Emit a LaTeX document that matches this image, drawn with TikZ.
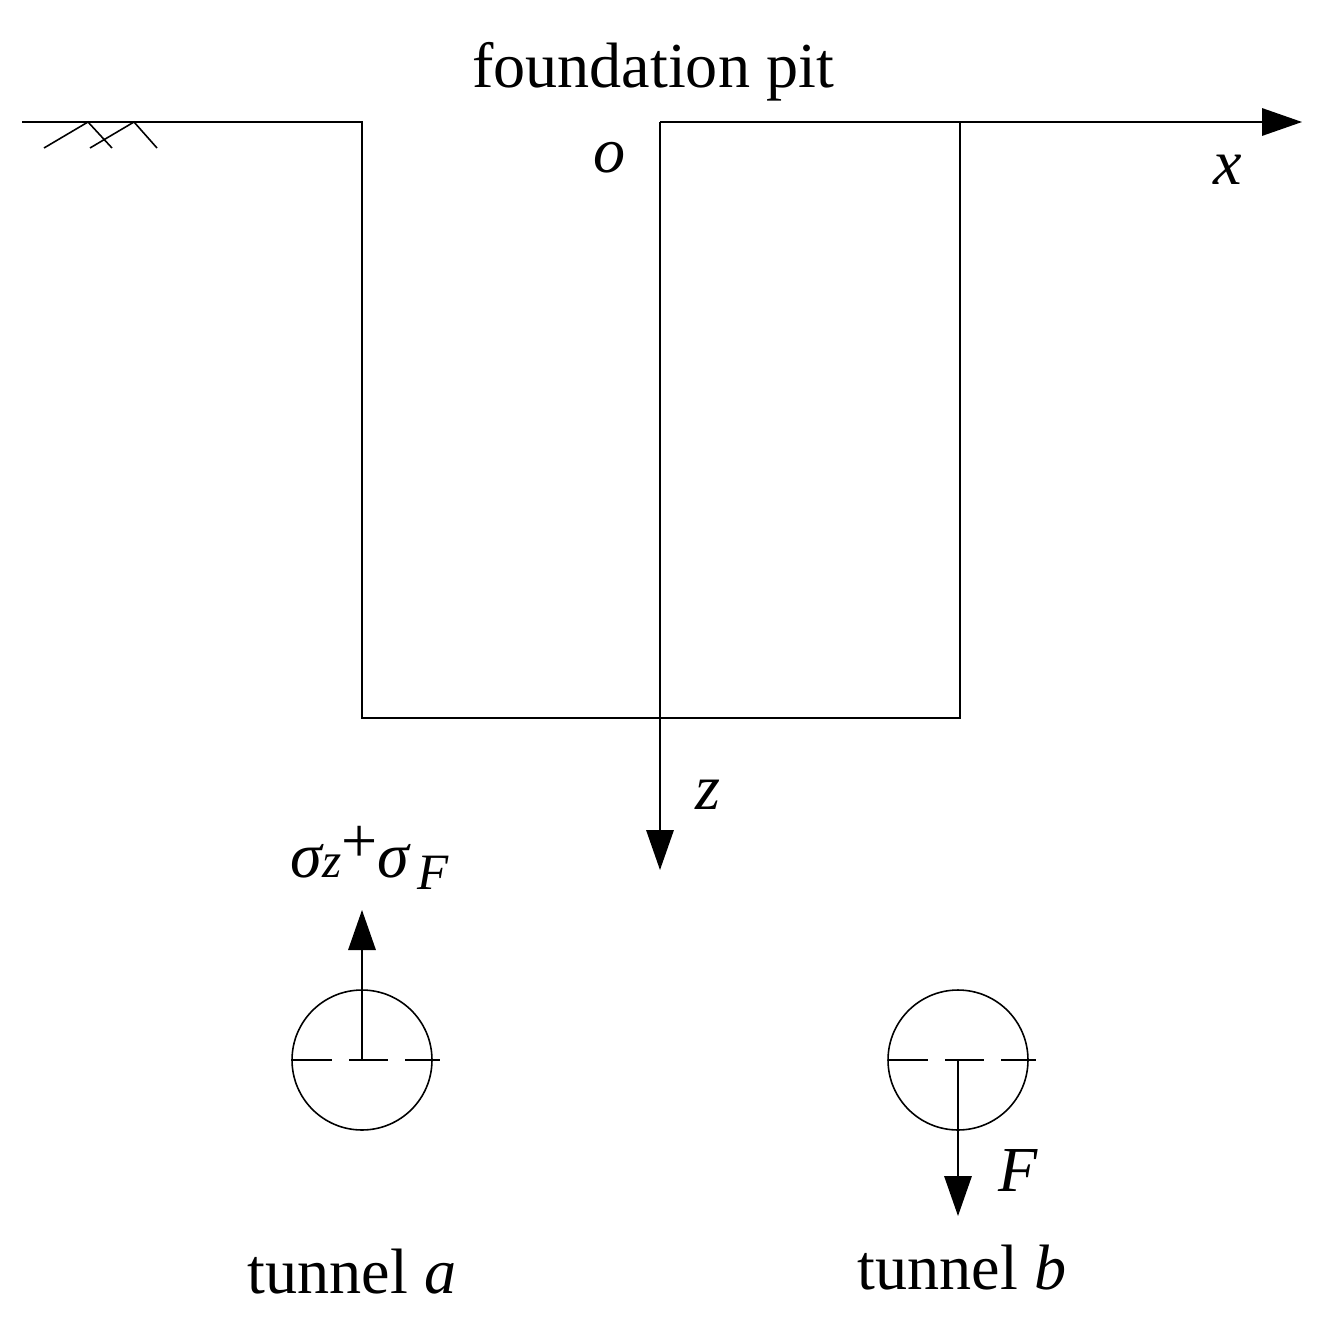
\documentclass[tikz,border=0pt]{standalone}
\usepackage{fontspec}
\setmainfont{Liberation Serif}
\usetikzlibrary{arrows.meta}
\begin{document}
\begin{tikzpicture}[x=0.02cm,y=-0.02cm,line width=0.9pt,
  tip/.style={-{Triangle[length=0.8cm,width=0.55cm]}},
  lbl/.style={font=\fontsize{36.5}{42}\selectfont,inner sep=0},
  circ/.style={draw,circle,minimum size=2.8cm,inner sep=0}]
\useasboundingbox (0,0) rectangle (1329,1331);
\coordinate (g0) at (22,122); \coordinate (tl) at (362,122);
\coordinate (bl) at (362,718); \coordinate (br) at (960,718);
\coordinate (tr) at (960,122); \coordinate (o) at (660,122);
\coordinate (xe) at (1302,122); \coordinate (ze) at (660,870);
\draw (g0) -- (tl) -- (bl) -- (br) -- (tr);
\draw[tip] (o) -- (xe);
\draw[tip] (o) -- (ze);
\draw (44,148) -- (88,122) -- (112,148) (90,148) -- (134,122) -- (157,148);
\node[lbl] at (653,72) {foundation pit};
\node[lbl] at (610,158) {\itshape o};
\node[lbl] at (1228,170) {\itshape x};
\node[lbl] at (708,795) {\itshape z};
\node[circ] (ca) at (362,1060) {};
\node[circ] (cb) at (958,1060) {};
\draw[dash pattern=on 22pt off 10pt,dash phase=-4pt] (286,1060) -- (440,1060);
\draw[dash pattern=on 22pt off 10pt,dash phase=-4pt] (882,1060) -- (1036,1060);
\coordinate (ua) at (362,910); \coordinate (db) at (958,1216);
\draw[tip] (ca.center) -- (ua);
\draw[tip] (cb.center) -- (db);
\node[lbl] at (370,858) {\itshape σ{\fontsize{28}{30}\selectfont z}\raisebox{8pt}{\upshape+}σ\raisebox{-7pt}{\fontsize{29}{30}\selectfont\,F}};
\node[lbl] at (1018,1170) {\itshape F};
\node[lbl] at (352,1272) {tunnel \textit{a}};
\node[lbl] at (962,1268) {tunnel \textit{b}};
\end{tikzpicture}
\end{document}
